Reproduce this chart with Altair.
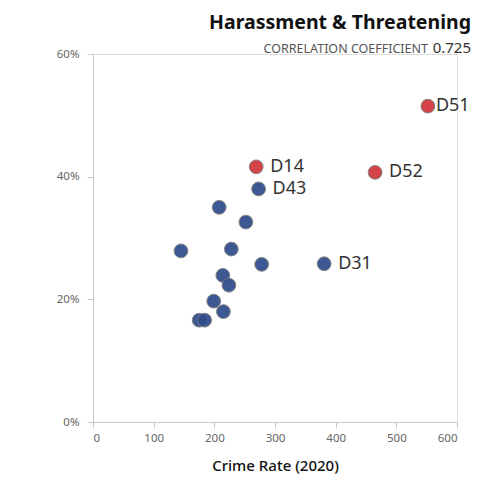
import altair as alt
import pandas as pd

# Data
crime_rate = [552, 465, 269, 273, 381, 208, 252, 145, 228, 278, 214, 224, 199, 215, 175, 184]
share = [51.5, 40.7, 41.6, 38.0, 25.8, 35.0, 32.6, 27.9, 28.2, 25.7, 23.9, 22.3, 19.7, 18.0, 16.6, 16.6]
district = ["D51", "D52", "D14", "D43", "D31", "", "", "", "", "", "", "", "", "", "", ""]
highlight = ["red", "red", "red", "blue", "blue", "blue", "blue", "blue", "blue", "blue", "blue", "blue", "blue", "blue", "blue", "blue"]

df = pd.DataFrame({"rate": crime_rate, "share": [s / 100 for s in share],
                   "district": district, "group": highlight})

FONT = "Noto Sans"
W, H = 364, 368

x = alt.X("rate:Q", scale=alt.Scale(domain=[0, 600], nice=False),
          axis=alt.Axis(values=[0, 100, 200, 300, 400, 500, 600], title="Crime Rate (2020)",
                        grid=False, domainColor="#c8c8c8", tickColor="#c8c8c8", tickSize=6,
                        labelColor="#666666", labelFontSize=11.5, labelFont=FONT, labelPadding=4,
                        titleFont=FONT, titleFontSize=15, titleFontWeight=500,
                        titleColor="#111111", titlePadding=15))
y = alt.Y("share:Q", scale=alt.Scale(domain=[0, 0.6], nice=False),
          axis=alt.Axis(values=[0, 0.2, 0.4, 0.6], format=".0%", title=None, grid=False,
                        domainColor="#c8c8c8", tickColor="#c8c8c8", tickSize=6,
                        labelColor="#666666", labelFontSize=11.5, labelFont=FONT, labelPadding=8))

base = alt.Chart(df)

points = base.mark_point(filled=True, size=190, opacity=0.92, stroke="#7a7a7a",
                         strokeWidth=1).encode(
    x=x, y=y,
    color=alt.Color("group:N", scale=alt.Scale(domain=["blue", "red"],
                                                 range=["#2d4a8a", "#d13438"]), legend=None),
)

labels_main = base.transform_filter(
    "datum.district != '' && datum.district != 'D51'"
).mark_text(align="left", baseline="middle", dx=14, fontSize=18, font=FONT,
            color="#333333").encode(x=x, y=y, text="district:N")

labels_d51 = base.transform_filter("datum.district == 'D51'").mark_text(
    align="left", baseline="middle", dx=8, fontSize=18, font=FONT, color="#333333"
).encode(x=x, y=y, text="district:N")

title_df = pd.DataFrame({"t": ["Harassment & Threatening"]})
title = alt.Chart(title_df).mark_text(align="right", baseline="alphabetic", fontSize=19.5,
                                      fontWeight="bold", font=FONT, color="#111111").encode(
    x=alt.value(378), y=alt.value(-25), text="t:N")

sub1 = alt.Chart(pd.DataFrame({"t": ["CORRELATION COEFFICIENT"]})).mark_text(
    align="right", baseline="alphabetic", fontSize=12.5, font=FONT,
    color="#555555").encode(x=alt.value(335), y=alt.value(-1.5), text="t:N")
sub2 = alt.Chart(pd.DataFrame({"t": ["0.725"]})).mark_text(
    align="right", baseline="alphabetic", fontSize=15, font=FONT, color="#333333").encode(
    x=alt.value(378), y=alt.value(-1.5), text="t:N")

chart = alt.layer(points, labels_main, labels_d51, title, sub1, sub2).properties(
    width=W, height=H,
    autosize=alt.AutoSizeParams(type="none"),
    padding={"left": 85, "top": 46, "right": 19, "bottom": 54},
).configure_view(stroke=None).configure(background="white")

chart.save("out.html", embed_options={"renderer": "svg", "actions": False})
